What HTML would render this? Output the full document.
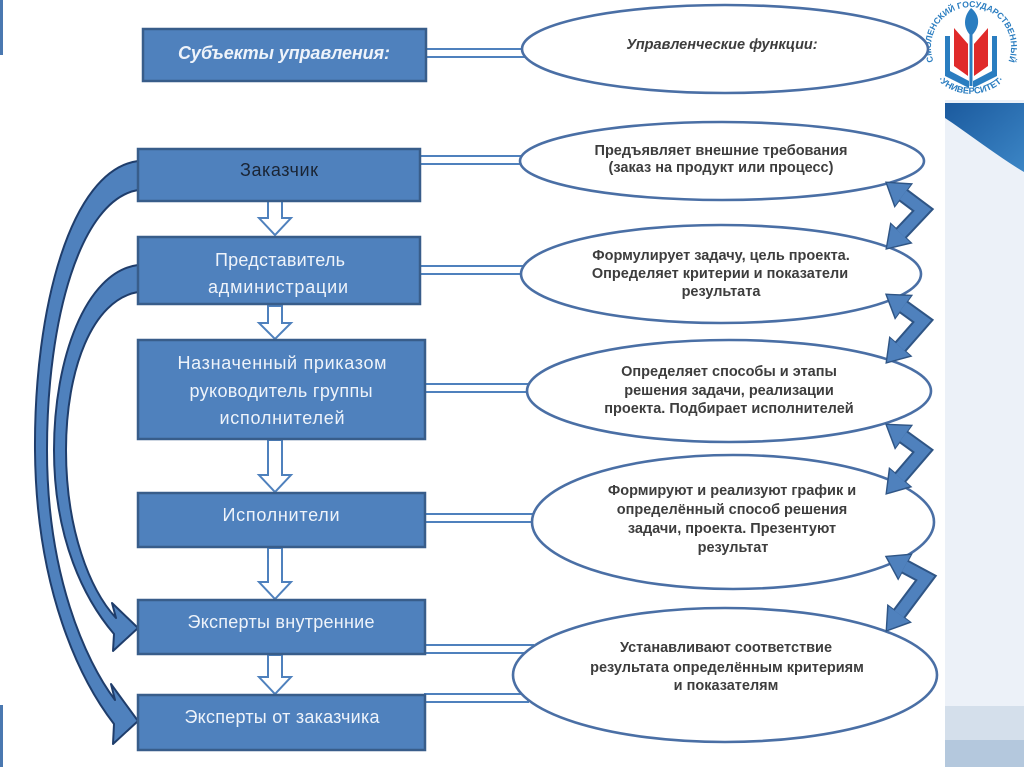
<!DOCTYPE html>
<html>
<head>
<meta charset="utf-8">
<style>
html,body{margin:0;padding:0;background:#fff;}
body{width:1024px;height:767px;overflow:hidden;}
svg{display:block;}
.bx{fill:#4f81bd;stroke:#385d8a;stroke-width:2.5;}
.bt{font-family:"Liberation Sans","DejaVu Sans",sans-serif;font-size:18px;fill:#eef3fa;text-anchor:middle;}
.el{fill:#fff;stroke:#4a6fa5;stroke-width:2.6;}
.et{font-family:"Liberation Sans","DejaVu Sans",sans-serif;font-size:14.5px;font-weight:bold;fill:#3d3d3d;text-anchor:middle;}
.con{fill:#fff;stroke:#4f81bd;stroke-width:2;}
.dn{fill:#fff;stroke:#4f81bd;stroke-width:2;stroke-linejoin:miter;}
.cv{fill:#4f81bd;stroke:#1f3d6b;stroke-width:2;stroke-linejoin:round;}
.chO{fill:none;stroke:#2f5585;stroke-width:15;stroke-linejoin:miter;}
.chI{fill:none;stroke:#4f81bd;stroke-width:11;stroke-linejoin:miter;}
</style>
</head>
<body>
<svg width="1024" height="767" viewBox="0 0 1024 767" xmlns="http://www.w3.org/2000/svg">
<defs>
  <marker id="hO" markerUnits="userSpaceOnUse" orient="auto-start-reverse" refX="0" refY="0" markerWidth="60" markerHeight="60" viewBox="-30 -30 60 60" style="overflow:visible">
    <polygon points="-1,-15.5 22.5,0 -1,15.5" fill="#2f5585"/>
  </marker>
  <marker id="hI" markerUnits="userSpaceOnUse" orient="auto-start-reverse" refX="0" refY="0" markerWidth="60" markerHeight="60" viewBox="-30 -30 60 60" style="overflow:visible">
    <polygon points="0,-13 20,0 0,13" fill="#4f81bd"/>
  </marker>
  <linearGradient id="gTop" x1="0" y1="0" x2="1" y2="1">
    <stop offset="0" stop-color="#1b5a9e"/>
    <stop offset="1" stop-color="#3c86c6"/>
  </linearGradient>
</defs>

<!-- left edge strips -->
<rect x="0" y="0" width="3" height="55" fill="#4a78b0"/>
<rect x="0" y="705" width="3" height="62" fill="#4a78b0"/>

<!-- right panel -->
<rect x="945" y="100" width="79" height="667" fill="#ecf1f8"/>
<path d="M945,103 L1024,103 L1024,172 C1000,158 972,136 945,118 Z" fill="url(#gTop)"/>
<rect x="945" y="706" width="79" height="34" fill="#d4dfeb"/>
<rect x="945" y="740" width="79" height="27" fill="#b4c8dd"/>

<!-- logo -->
<path id="arcTop" d="M933.4,60.7 A40 40 0 1 1 1008.6,60.7" fill="none"/>
<path id="arcBot" d="M930.4,70.5 A47 47 0 0 0 1011.6,70.5" fill="none"/>
<text font-family="Liberation Sans, DejaVu Sans, sans-serif" font-size="8.6" font-weight="bold" fill="#2a7dc0"><textPath href="#arcTop" startOffset="50%" text-anchor="middle">СМОЛЕНСКИЙ ГОСУДАРСТВЕННЫЙ</textPath></text>
<text font-family="Liberation Sans, DejaVu Sans, sans-serif" font-size="9" font-weight="bold" fill="#2a7dc0"><textPath href="#arcBot" startOffset="50%" text-anchor="middle">·УНИВЕРСИТЕТ·</textPath></text>
<polygon points="945,36 945,76 969,88 969,81 950,71 950,36" fill="#2a7dc0"/>
<polygon points="997,36 997,76 973,88 973,81 992,71 992,36" fill="#2a7dc0"/>
<polygon points="954,28 954,66 968,76 968,44" fill="#e02a2a"/>
<polygon points="988,28 988,66 974,76 974,44" fill="#e02a2a"/>
<rect x="969.5" y="34" width="3" height="52" fill="#2a7dc0"/>
<path d="M971,8 C981,16 980,28 971,36 C963,28 963,17 971,8 Z" fill="#2a7dc0"/>

<!-- horizontal double connectors -->
<rect class="con" x="425" y="49" width="100" height="8"/>
<rect class="con" x="420" y="156" width="104" height="8"/>
<rect class="con" x="420" y="266" width="105" height="8"/>
<rect class="con" x="425" y="384" width="105" height="8"/>
<rect class="con" x="425" y="514" width="110" height="8"/>
<rect class="con" x="425" y="645" width="108" height="8"/>
<rect class="con" x="425" y="694" width="103" height="8"/>

<!-- down hollow arrows -->
<polygon class="dn" points="268,201 282,201 282,218 291,218 275,235 259,218 268,218"/>
<polygon class="dn" points="268,306 282,306 282,323 291,323 275,339 259,323 268,323"/>
<polygon class="dn" points="268,440 282,440 282,475 291,475 275,492 259,475 268,475"/>
<polygon class="dn" points="268,548 282,548 282,582 291,582 275,599 259,582 268,582"/>
<polygon class="dn" points="268,655 282,655 282,677 291,677 275,694 259,677 268,677"/>

<!-- curved arrows -->
<path class="cv" d="M138,161 C70,170 34,310 35,450 C36,590 80,680 114,724 L113,744 L138,721 L111,684 L115,700 C85,660 47,575 47,450 C47,320 80,200 138,190 Z"/>
<path class="cv" d="M138,265 C85,272 54,360 54,450 C54,540 85,600 114,634 L113,651 L138,628 L112,603 L116,618 C90,590 66,530 66,450 C66,370 92,300 138,292 Z"/>

<!-- boxes -->
<rect class="bx" x="143" y="29" width="283" height="52"/>
<text class="bt" x="284" y="59" font-weight="bold" font-style="italic" textLength="212">Субъекты управления:</text>

<rect class="bx" x="138" y="149" width="282" height="52"/>
<text class="bt" x="279" y="176" style="fill:#1a2535" textLength="78">Заказчик</text>

<rect class="bx" x="138" y="237" width="282" height="67"/>
<text class="bt" x="280" y="266" textLength="130">Представитель</text>
<text class="bt" x="278" y="293" textLength="140">администрации</text>

<rect class="bx" x="138" y="340" width="287" height="99"/>
<text class="bt" x="282" y="369" textLength="209">Назначенный приказом</text>
<text class="bt" x="281" y="397" textLength="183">руководитель группы</text>
<text class="bt" x="282" y="424" textLength="125">исполнителей</text>

<rect class="bx" x="138" y="493" width="287" height="54"/>
<text class="bt" x="281" y="521" textLength="117">Исполнители</text>

<rect class="bx" x="138" y="600" width="287" height="54"/>
<text class="bt" x="281" y="628" textLength="187">Эксперты внутренние</text>

<rect class="bx" x="138" y="695" width="287" height="55"/>
<text class="bt" x="282" y="723" textLength="195">Эксперты от заказчика</text>

<!-- ellipses -->
<ellipse class="el" cx="725" cy="49" rx="203" ry="44"/>
<text class="et" x="722" y="49" font-style="italic">Управленческие функции:</text>

<ellipse class="el" cx="722" cy="161" rx="202" ry="39"/>
<text class="et" x="721" y="155">Предъявляет внешние требования</text>
<text class="et" x="721" y="172">(заказ на продукт или процесс)</text>

<ellipse class="el" cx="721" cy="274" rx="200" ry="49"/>
<text class="et" x="721" y="260">Формулирует задачу, цель проекта.</text>
<text class="et" x="720" y="278">Определяет критерии и показатели</text>
<text class="et" x="721" y="296">результата</text>

<ellipse class="el" cx="729" cy="391" rx="202" ry="51"/>
<text class="et" x="729" y="376">Определяет способы и этапы</text>
<text class="et" x="729" y="395">решения  задачи, реализации</text>
<text class="et" x="729" y="413">проекта. Подбирает исполнителей</text>

<ellipse class="el" cx="733" cy="522" rx="201" ry="67"/>
<text class="et" x="732" y="495">Формируют и реализуют график и</text>
<text class="et" x="732" y="514">определённый способ решения</text>
<text class="et" x="732" y="533">задачи, проекта. Презентуют</text>
<text class="et" x="733" y="552">результат</text>

<ellipse class="el" cx="725" cy="675" rx="212" ry="67"/>
<text class="et" x="726" y="652">Устанавливают соответствие</text>
<text class="et" x="727" y="672">результата определённым критериям</text>
<text class="et" x="726" y="690">и показателям</text>

<!-- right bent double arrows -->
<g>
  <path class="chO" d="M903,195 L923,210 L900.8,233.5" marker-start="url(#hO)" marker-end="url(#hO)"/>
  <path class="chI" d="M903,195 L923,210 L900.8,233.5" marker-start="url(#hI)" marker-end="url(#hI)"/>
</g>
<g>
  <path class="chO" d="M903.2,306.7 L923,321 L900.2,347" marker-start="url(#hO)" marker-end="url(#hO)"/>
  <path class="chI" d="M903.2,306.7 L923,321 L900.2,347" marker-start="url(#hI)" marker-end="url(#hI)"/>
</g>
<g>
  <path class="chO" d="M903.2,436.7 L923,451 L900,477.8" marker-start="url(#hO)" marker-end="url(#hO)"/>
  <path class="chI" d="M903.2,436.7 L923,451 L900,477.8" marker-start="url(#hI)" marker-end="url(#hI)"/>
</g>
<g>
  <path class="chO" d="M904.6,566.5 L926,578 L899,614" marker-start="url(#hO)" marker-end="url(#hO)"/>
  <path class="chI" d="M904.6,566.5 L926,578 L899,614" marker-start="url(#hI)" marker-end="url(#hI)"/>
</g>
</svg>
</body>
</html>
